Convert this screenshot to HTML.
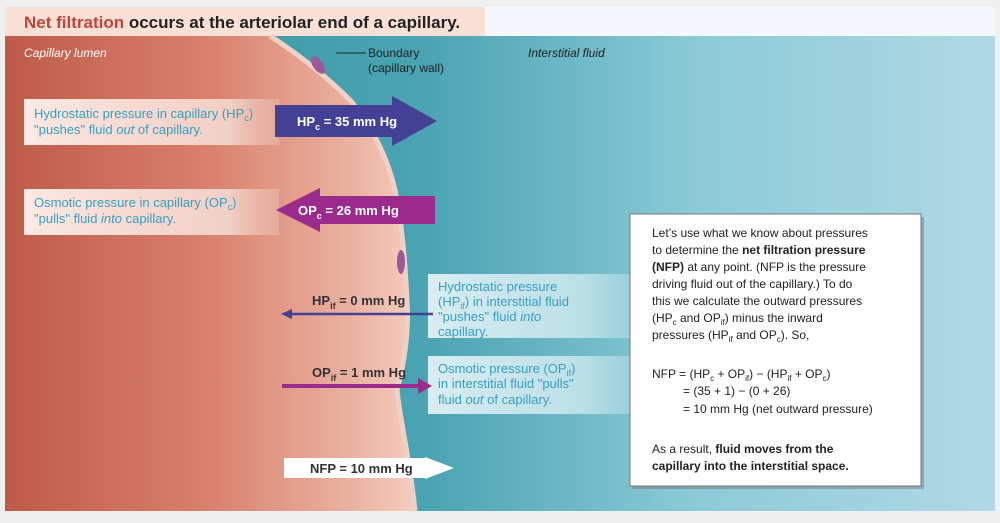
<!DOCTYPE html>
<html><head><meta charset="utf-8"><style>
body{margin:0;background:#f0f0f0;width:1000px;height:518px;overflow:hidden;font-family:"Liberation Sans",sans-serif}
svg text{font-family:"Liberation Sans",sans-serif}
</style></head><body>
<svg width="1000" height="518" viewBox="0 0 1000 518" xmlns="http://www.w3.org/2000/svg">
<defs>
<linearGradient id="red" x1="0" x2="410" y1="0" y2="0" gradientUnits="userSpaceOnUse">
<stop offset="0" stop-color="#bd5a48"/><stop offset="0.5" stop-color="#d8806c"/><stop offset="0.85" stop-color="#eab0a0"/><stop offset="1" stop-color="#f3cbbd"/>
</linearGradient>
<linearGradient id="teal" x1="0" x2="1" y1="0" y2="0">
<stop offset="0" stop-color="#2f92a2"/><stop offset="0.42" stop-color="#4aa3b2"/><stop offset="0.7" stop-color="#8ccad7"/><stop offset="1" stop-color="#b0d9e5"/>
</linearGradient>
<linearGradient id="lbox" x1="0" x2="1"><stop offset="0" stop-color="#fbe9e3"/><stop offset="0.8" stop-color="#f5d8ce" stop-opacity="0.9"/><stop offset="1" stop-color="#f1cfc2" stop-opacity="0.3"/></linearGradient>
<linearGradient id="tbox" x1="0" x2="1"><stop offset="0" stop-color="#e0f1f5" stop-opacity="0.95"/><stop offset="0.7" stop-color="#d0eaf0" stop-opacity="0.8"/><stop offset="1" stop-color="#c0e2ea" stop-opacity="0.3"/></linearGradient>
</defs>
<rect x="5" y="7" width="990" height="29" fill="#f4f8fc"/>
<rect x="5" y="7" width="480" height="29" fill="#f8e0d6"/>
<text x="24" y="28" font-size="17" font-weight="bold" fill="#222"><tspan fill="#c0453a">Net filtration</tspan> occurs at the arteriolar end of a capillary.</text>
<rect x="5" y="36" width="990" height="475" fill="url(#teal)"/>
<path d="M5 36 L270 36 C300 55 330 80 350 100 C375 130 388 160 395 190 C402 225 405 260 407 300 C409 330 405 360 397 390 C400 420 410 460 415 511 L5 511 Z" fill="url(#red)"/>
<path d="M270 36 C300 55 330 80 350 100 C375 130 388 160 395 190 C402 225 405 260 407 300 C409 330 405 360 397 390 C400 420 410 460 415 511" fill="none" stroke="#f2d0c6" stroke-width="5"/>
<ellipse cx="318" cy="65" rx="5" ry="10" fill="#9a5a9a" transform="rotate(-35 318 65)"/>
<ellipse cx="401" cy="262" rx="4" ry="12" fill="#9a5a9a"/>
<text x="24" y="57" font-size="12" font-style="italic" fill="#fff">Capillary lumen</text>
<line x1="336" y1="53" x2="366" y2="53" stroke="#222" stroke-width="1"/>
<text x="368" y="57" font-size="12" fill="#222">Boundary</text>
<text x="368" y="72" font-size="12" fill="#222">(capillary wall)</text>
<text x="528" y="57" font-size="12" font-style="italic" fill="#222">Interstitial fluid</text>
<rect x="24" y="99" width="255" height="46" fill="url(#lbox)"/>
<text x="34" y="118" font-size="13" fill="#35a0c0">Hydrostatic pressure in capillary (HP<tspan font-size="9" dy="3">c</tspan><tspan dy="-3">)</tspan></text>
<text x="34" y="134" font-size="13" fill="#35a0c0">"pushes" fluid <tspan font-style="italic">out</tspan> of capillary.</text>
<path d="M275 105 L392 105 L392 96 L437 121 L392 146 L392 137 L275 137 Z" fill="#434095"/>
<text x="297" y="126" font-size="13" font-weight="bold" fill="#fff">HP<tspan font-size="9" dy="4">c</tspan><tspan dy="-4"> = 35 mm Hg</tspan></text>
<rect x="24" y="189" width="255" height="46" fill="url(#lbox)"/>
<text x="34" y="207" font-size="13" fill="#35a0c0">Osmotic pressure in capillary (OP<tspan font-size="9" dy="3">c</tspan><tspan dy="-3">)</tspan></text>
<text x="34" y="223" font-size="13" fill="#35a0c0">"pulls" fluid <tspan font-style="italic">into</tspan> capillary.</text>
<path d="M435 196 L320 196 L320 188 L276 210 L320 232 L320 224 L435 224 Z" fill="#9a2a8c"/>
<text x="298" y="215" font-size="13" font-weight="bold" fill="#fff">OP<tspan font-size="9" dy="4">c</tspan><tspan dy="-4"> = 26 mm Hg</tspan></text>
<rect x="428" y="274" width="220" height="64" fill="url(#tbox)"/>
<text x="438" y="291" font-size="13" fill="#35a0c0">Hydrostatic pressure</text>
<text x="438" y="306" font-size="13" fill="#35a0c0">(HP<tspan font-size="9" dy="3">if</tspan><tspan dy="-3">) in interstitial fluid</tspan></text>
<text x="438" y="321" font-size="13" fill="#35a0c0">"pushes" fluid <tspan font-style="italic">into</tspan></text>
<text x="438" y="336" font-size="13" fill="#35a0c0">capillary.</text>
<rect x="428" y="356" width="220" height="58" fill="url(#tbox)"/>
<text x="438" y="373" font-size="13" fill="#35a0c0">Osmotic pressure (OP<tspan font-size="9" dy="3">if</tspan><tspan dy="-3">)</tspan></text>
<text x="438" y="388" font-size="13" fill="#35a0c0">in interstitial fluid "pulls"</text>
<text x="438" y="404" font-size="13" fill="#35a0c0">fluid <tspan font-style="italic">out</tspan> of capillary.</text>
<text x="312" y="305" font-size="13" font-weight="bold" fill="#333">HP<tspan font-size="9" dy="4">if</tspan><tspan dy="-4"> = 0 mm Hg</tspan></text>
<line x1="290" y1="314" x2="433" y2="314" stroke="#434095" stroke-width="2.5"/>
<path d="M281 314 L292 309 L292 319 Z" fill="#434095"/>
<text x="312" y="377" font-size="13" font-weight="bold" fill="#333">OP<tspan font-size="9" dy="4">if</tspan><tspan dy="-4"> = 1 mm Hg</tspan></text>
<line x1="282" y1="386" x2="420" y2="386" stroke="#9a2a8c" stroke-width="4"/>
<path d="M432 386 L418 378 L418 394 Z" fill="#9a2a8c"/>
<path d="M284 458 L425 458 L425 457 L454 468 L425 479 L425 478 L284 478 Z" fill="#fff"/>
<text x="310" y="473" font-size="13" font-weight="bold" fill="#333">NFP = 10 mm Hg</text>
<rect x="632" y="217" width="292" height="272" fill="#7a7a7a" opacity="0.5"/>
<rect x="630" y="214" width="291" height="272" fill="#fff" stroke="#777" stroke-width="1"/>
<g font-size="12" fill="#222">
<text x="652" y="237">Let’s use what we know about pressures</text>
<text x="652" y="254">to determine the <tspan font-weight="bold">net filtration pressure</tspan></text>
<text x="652" y="271"><tspan font-weight="bold">(NFP)</tspan> at any point. (NFP is the pressure</text>
<text x="652" y="288">driving fluid out of the capillary.) To do</text>
<text x="652" y="305">this we calculate the outward pressures</text>
<text x="652" y="322">(HP<tspan font-size="8" dy="3">c</tspan><tspan dy="-3"> and OP</tspan><tspan font-size="8" dy="3">if</tspan><tspan dy="-3">) minus the inward</tspan></text>
<text x="652" y="339">pressures (HP<tspan font-size="8" dy="3">if</tspan><tspan dy="-3"> and OP</tspan><tspan font-size="8" dy="3">c</tspan><tspan dy="-3">). So,</tspan></text>
<text x="652" y="378">NFP = (HP<tspan font-size="8" dy="3">c</tspan><tspan dy="-3"> + OP</tspan><tspan font-size="8" dy="3">if</tspan><tspan dy="-3">) − (HP</tspan><tspan font-size="8" dy="3">if</tspan><tspan dy="-3"> + OP</tspan><tspan font-size="8" dy="3">c</tspan><tspan dy="-3">)</tspan></text>
<text x="683" y="395">= (35 + 1) − (0 + 26)</text>
<text x="683" y="413">= 10 mm Hg (net outward pressure)</text>
<text x="652" y="453">As a result, <tspan font-weight="bold">fluid moves from the</tspan></text>
<text x="652" y="470" font-weight="bold">capillary into the interstitial space.</text>
</g>
</svg>
</body></html>
